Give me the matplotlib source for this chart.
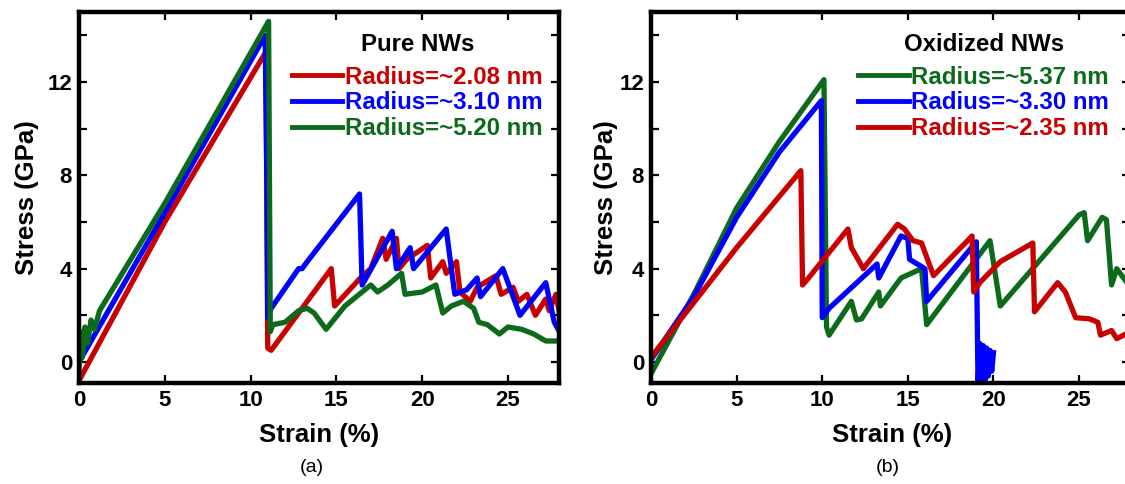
import matplotlib
matplotlib.use("Agg")
import matplotlib.pyplot as plt
from matplotlib.lines import Line2D

plt.rcParams["font.family"] = ["Liberation Sans", "DejaVu Sans"]
plt.rcParams["font.weight"] = "bold"

RED = "#c80000"
BLUE = "#0000ff"
GREEN = "#0b6b1b"

# ---- (a) pure NWs ----
pure_red_x = [0, 5.0, 10.9, 11.0, 11.2, 14.7, 14.9, 16.4, 17.0, 17.7, 17.9, 18.5, 18.65, 19.1,
              20.3, 20.5, 21.2, 21.4, 22.0, 22.2, 22.8, 23.2, 24.3, 24.6, 25.3, 25.6, 26.1,
              26.6, 27.2, 27.4, 27.8, 28.0]
pure_red_y = [-0.8, 6.0, 13.3, 0.6, 0.5, 4.0, 2.4, 3.6, 4.0, 5.3, 4.4, 5.3, 4.0, 4.4,
              5.0, 3.6, 4.3, 3.8, 4.3, 3.0, 2.6, 3.2, 3.7, 2.9, 3.2, 2.6, 2.9,
              2.0, 2.7, 2.2, 2.9, 2.1]
pure_red_label = "Radius=~2.08 nm"

pure_blue_x = [0, 5.0, 10.85, 10.95, 11.0, 11.2, 12.8, 13.0, 13.3, 16.35, 16.5, 18.25, 18.5,
               19.3, 19.5, 21.4, 21.7, 21.9, 22.6, 23.2, 23.4, 24.7, 25.7, 27.2, 27.7, 28.0]
pure_blue_y = [0.0, 6.4, 14.0, 7.5, 1.9, 2.3, 4.0, 4.0, 4.3, 7.2, 3.3, 5.6, 4.0,
               4.9, 4.0, 5.7, 4.0, 2.9, 3.1, 3.6, 2.8, 4.0, 2.0, 3.4, 1.7, 1.3]
pure_blue_label = "Radius=~3.10 nm"

pure_green_x = [0, 0.1, 0.2, 0.35, 0.5, 0.7, 0.9, 1.2, 5.0, 11.05, 11.15, 11.3, 12.0, 12.8, 13.3,
                13.7, 14.4, 15.5, 17.0, 17.4, 18.0, 18.8, 19.0, 20.0, 20.8, 21.2, 21.7, 22.4,
                23.0, 23.3, 23.8, 24.5, 25.0, 25.8, 26.5, 27.2, 28.0]
pure_green_y = [-0.4, 1.3, 0.2, 1.5, 0.8, 1.8, 1.4, 2.2, 6.8, 14.6, 1.3, 1.6, 1.7, 2.2, 2.3,
                2.1, 1.4, 2.4, 3.3, 3.0, 3.3, 3.8, 2.9, 3.0, 3.3, 2.1, 2.4, 2.6,
                2.3, 1.7, 1.6, 1.2, 1.5, 1.4, 1.2, 0.9, 0.9]
pure_green_label = "Radius=~5.20 nm"

# ---- (b) oxidized NWs ----
ox_green_x = [0, 2.5, 5.0, 7.5, 10.1, 10.25, 10.4, 11.7, 12.0, 12.3, 13.3, 13.4, 14.6, 15.8,
              16.1, 19.8, 20.4, 25.0, 25.3, 25.5, 26.35, 26.6, 26.9, 27.2, 28.0]
ox_green_y = [-0.5, 2.9, 6.6, 9.45, 12.1, 1.5, 1.15, 2.6, 1.8, 1.85, 3.0, 2.4, 3.6, 4.0,
              1.6, 5.2, 2.4, 6.3, 6.4, 5.2, 6.2, 6.1, 3.3, 4.0, 3.2]
ox_green_label = "Radius=~5.37 nm"

ox_blue_x = [0, 2.5, 5.0, 7.5, 9.95, 10.0, 10.4, 13.2, 13.3, 14.6, 15.0, 15.1, 16.0, 16.1,
             19.0, 19.1, 19.2, 19.3, 19.4, 19.5, 19.6, 19.7, 19.8, 19.9, 20.0]
ox_blue_y = [0.1, 2.8, 6.2, 9.0, 11.2, 1.9, 2.3, 4.2, 3.6, 5.4, 5.3, 4.4, 4.0, 2.6,
             5.15, -1.0, 0.8, -0.9, 0.7, -0.8, 0.6, -0.6, 0.5, -0.4, 0.4]
ox_blue_label = "Radius=~3.30 nm"

ox_red_x = [0, 5.0, 8.75, 8.85, 9.2, 11.5, 11.7, 12.4, 14.4, 14.8, 15.3, 15.8, 16.5, 18.75,
            18.85, 19.2, 20.4, 22.3, 22.4, 23.75, 24.2, 24.8, 25.6, 26.1, 26.25, 26.9, 27.2, 28.0]
ox_red_y = [0.2, 4.9, 8.2, 3.3, 3.6, 5.7, 4.9, 4.0, 5.9, 5.7, 5.2, 5.1, 3.7, 5.4,
            3.0, 3.4, 4.3, 5.1, 2.15, 3.4, 3.0, 1.9, 1.85, 1.7, 1.15, 1.35, 1.0, 1.3]
ox_red_label = "Radius=~2.35 nm"

xticks = [0, 5, 10, 15, 20, 25]
yticks_major = [0, 4, 8, 12]
yticks_minor = [2, 6, 10, 14]

LW = 3.8

fig = plt.figure(figsize=(11.25, 4.84), dpi=100)
ax1 = fig.add_axes([0.0702, 0.2087, 0.4271, 0.7665])
ax2 = fig.add_axes([0.5787, 0.2087, 0.4261, 0.7665])

ax1.plot(pure_red_x, pure_red_y, color=RED, lw=LW)
ax1.plot(pure_blue_x, pure_blue_y, color=BLUE, lw=LW)
ax1.plot(pure_green_x, pure_green_y, color=GREEN, lw=LW)

ax2.plot(ox_green_x, ox_green_y, color=GREEN, lw=LW)
ax2.plot(ox_blue_x, ox_blue_y, color=BLUE, lw=LW)
ax2.plot(ox_red_x, ox_red_y, color=RED, lw=LW)

for ax in (ax1, ax2):
    ax.set_xlim(0, 28)
    ax.set_ylim(-0.9, 15)
    ax.set_xticks(xticks)
    ax.set_yticks(yticks_major)
    ax.set_yticks(yticks_minor, minor=True)
    ax.tick_params(which="both", direction="in", length=6, width=1.6,
                   top=True, right=True, labelsize=16, pad=5)
    for lab in ax.get_xticklabels() + ax.get_yticklabels():
        lab.set_fontweight("bold")
    for sp in ax.spines.values():
        sp.set_linewidth(3.2)
    ax.set_xlabel("Strain (%)", fontsize=18.5, fontweight="bold")
    ax.set_ylabel("Stress (GPa)", fontsize=18.5, fontweight="bold")

ax1.xaxis.set_label_coords(0.5, -0.108)
ax2.xaxis.set_label_coords(0.503, -0.108)
ax1.yaxis.set_label_coords(-0.083, 0.5)
ax2.yaxis.set_label_coords(-0.068, 0.5)


def add_legend(ax, entries, title, anchor):
    handles = [Line2D([], [], color=c, lw=3.5) for c, _ in entries]
    labels = [l for _, l in entries]
    leg = ax.legend(handles, labels, title=title, loc="upper left", bbox_to_anchor=anchor,
                    frameon=False, borderpad=0, borderaxespad=0, handlelength=2.1,
                    handletextpad=0.12, labelspacing=0.12, labelcolor="linecolor",
                    prop={"size": 17.3, "weight": "bold"},
                    title_fontproperties={"size": 17.3, "weight": "bold"})
    leg._legend_box.sep = 7
    return leg


add_legend(ax1, [(RED, pure_red_label), (BLUE, pure_blue_label), (GREEN, pure_green_label)],
           "Pure NWs", (0.443, 0.944))
add_legend(ax2, [(GREEN, ox_green_label), (BLUE, ox_blue_label), (RED, ox_red_label)],
           "Oxidized NWs", (0.432, 0.944))

fig.text(312 / 1125, 1 - 467 / 484, "(a)", ha="center", va="center", fontsize=14,
         fontweight="normal")
fig.text(888 / 1125, 1 - 467 / 484, "(b)", ha="center", va="center", fontsize=14,
         fontweight="normal")

fig.savefig("out.png", dpi=100)
